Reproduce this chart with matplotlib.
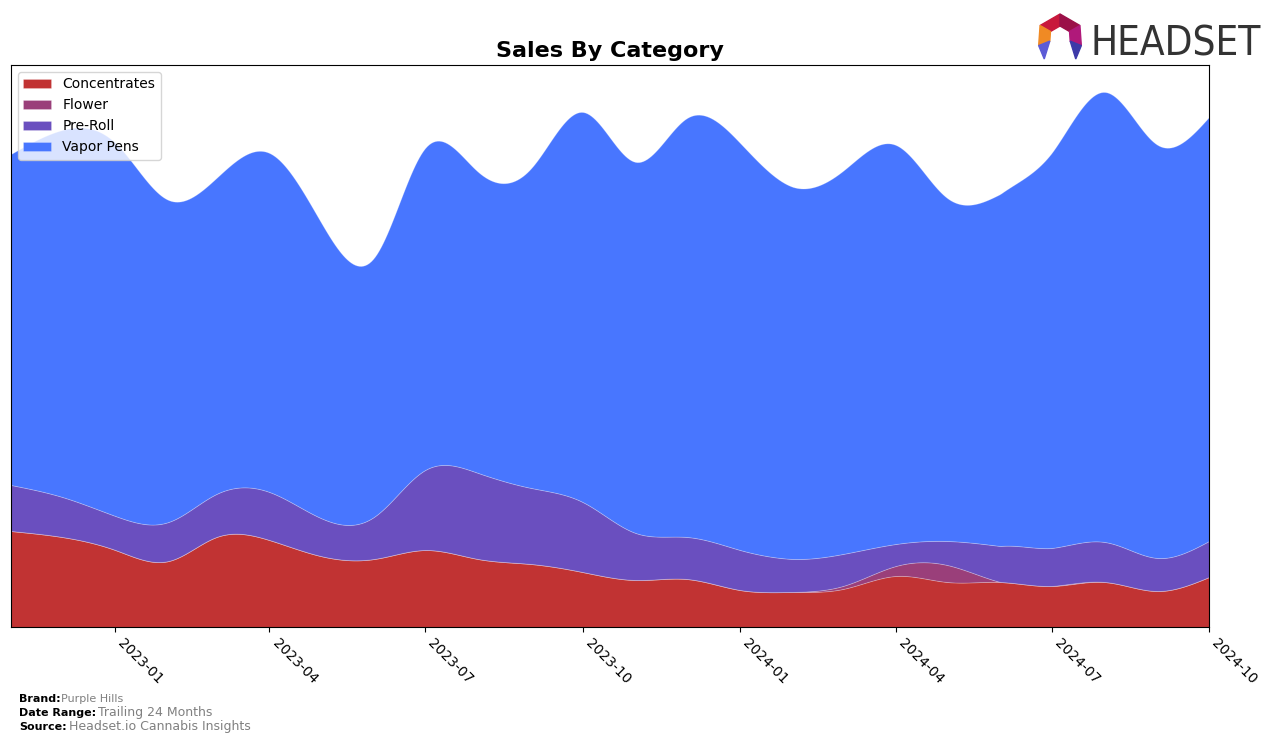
import numpy as np
import pandas as pd
import matplotlib
matplotlib.use("Agg")
import matplotlib.pyplot as plt
import matplotlib.dates as mdates
from matplotlib.patches import Polygon

# monthly sales by category (relative units)
months = pd.date_range("2022-11-01", "2024-10-01", freq="MS")
concentrates = [96, 90, 77, 66, 90, 87, 71, 68, 77, 68, 63, 55,
                47, 48, 37, 35, 38, 51, 45, 45, 41, 45, 36, 50]
flower = [0, 0, 0, 0, 0, 0, 0, 0, 0, 0, 0, 0,
          0, 0, 0, 0, 3, 10, 17, 0, 0, 0, 0, 0]
pre_roll = [46, 40, 34, 39, 43, 48, 38, 42, 80, 86, 76, 70,
            47, 42, 40, 33, 32, 22, 24, 36, 38, 40, 33, 36]
vapor_pens = [331, 367, 373, 322, 316, 339, 296, 259, 322, 301, 320, 390,
              371, 419, 407, 372, 383, 399, 343, 352, 395, 450, 413, 424]

categories = ["Concentrates", "Flower", "Pre-Roll", "Vapor Pens"]
colors = ["#C13333", "#9A3F7A", "#6A4FBF", "#4876FF"]


def natural_spline(x, y, xs):
    # plain natural cubic spline, used only to smooth the monthly series
    x = np.asarray(x, float)
    y = np.asarray(y, float)
    n = len(x)
    h = np.diff(x)
    A = np.zeros((n, n))
    b = np.zeros(n)
    A[0, 0] = A[-1, -1] = 1
    for i in range(1, n - 1):
        A[i, i - 1] = h[i - 1]
        A[i, i] = 2 * (h[i - 1] + h[i])
        A[i, i + 1] = h[i]
        b[i] = 3 * ((y[i + 1] - y[i]) / h[i] - (y[i] - y[i - 1]) / h[i - 1])
    c = np.linalg.solve(A, b)
    idx = np.clip(np.searchsorted(x, xs) - 1, 0, n - 2)
    dx = xs - x[idx]
    bb = (y[idx + 1] - y[idx]) / h[idx] - h[idx] * (2 * c[idx] + c[idx + 1]) / 3
    d = (c[idx + 1] - c[idx]) / (3 * h[idx])
    return y[idx] + bb * dx + c[idx] * dx ** 2 + d * dx ** 3


xnum = mdates.date2num(months)
xs = np.linspace(xnum[0], xnum[-1], 600)
series = [np.clip(natural_spline(xnum, s, xs), 0, None)
          for s in (concentrates, flower, pre_roll, vapor_pens)]

fig = plt.figure(figsize=(12.76, 7.42), dpi=100)
ax = fig.add_axes([0.0086, 0.155, 0.9389, 0.7574])
ax.stackplot(mdates.num2date(xs), *series, labels=categories, colors=colors,
             edgecolor=(1, 1, 1, 0.25), linewidth=0.6)

ax.set_xlim(months[0], months[-1])
ax.set_ylim(0, 562)
ax.set_yticks([])
ax.xaxis.set_major_locator(mdates.MonthLocator(bymonth=[1, 4, 7, 10]))
ax.xaxis.set_major_formatter(mdates.DateFormatter("%Y-%m"))
plt.setp(ax.get_xticklabels(), rotation=-45, ha="left", fontsize=10)
ax.set_title("Sales By Category", fontsize=16, fontweight="bold")
ax.legend(loc="upper left", fontsize=10)

# footer
fig.text(0.015, 0.054, "Brand:", fontsize=8, fontweight="bold")
fig.text(0.048, 0.054, "Purple Hills", fontsize=8, color="grey")
fig.text(0.015, 0.035, "Date Range:", fontsize=8, fontweight="bold")
fig.text(0.077, 0.035, "Trailing 24 Months", fontsize=9, color="grey")
fig.text(0.015, 0.016, "Source:", fontsize=8, fontweight="bold")
fig.text(0.054, 0.016, "Headset.io Cannabis Insights", fontsize=9, color="grey")

# logo
fig.text(0.855, 0.925, "HEADSET", fontsize=29, color="#333333", fontstretch="condensed")


def fp(p):
    return (p[0] / 1276, 1 - p[1] / 742)


cx, cy, r_out, r_in = 1060, 37, 23, 11
segments = [(-60, 0, "#C8193C"), (0, 60, "#9B1048"), (60, 112, "#B0197A"),
            (-112, -60, "#F08A24")]
for a0, a1, col in segments:
    angs = np.radians(np.linspace(a0, a1, 2))
    outer = [(cx + r_out * np.sin(a), cy - r_out * np.cos(a)) for a in angs]
    inner = [(cx + r_in * np.sin(a), cy - r_in * np.cos(a)) for a in angs[::-1]]
    fig.patches.append(Polygon([fp(p) for p in outer + inner], closed=True, color=col,
                               transform=fig.transFigure, figure=fig))
# the two feet of the ring
for sgn, col in ((-1, "#5C5BD6"), (1, "#3D3AA8")):
    a = np.radians(112)
    po = (cx + sgn * r_out * np.sin(a), cy - r_out * np.cos(a))
    pi = (cx + sgn * r_in * np.sin(a), cy - r_in * np.cos(a))
    tip = ((po[0] + pi[0]) / 2, 59)
    fig.patches.append(Polygon([fp(po), fp(pi), fp(tip)], closed=True, color=col,
                               transform=fig.transFigure, figure=fig))

fig.savefig("out.png", dpi=100)
